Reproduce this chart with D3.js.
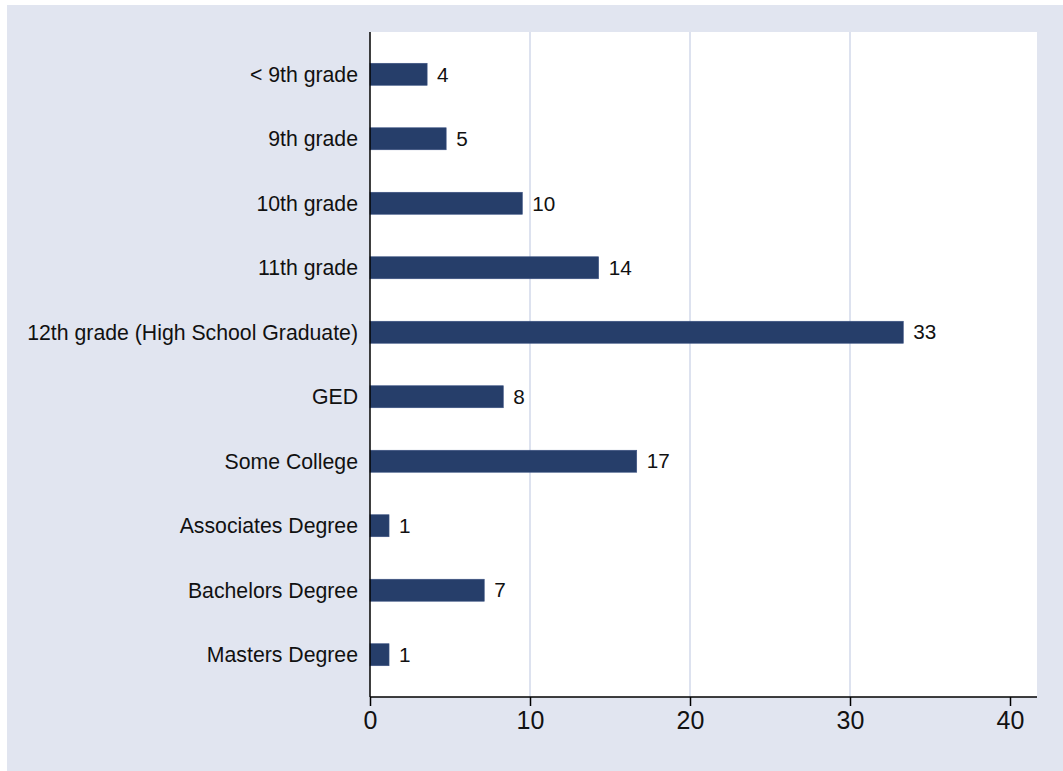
<!DOCTYPE html>
<html>
<head>
<meta charset="utf-8">
<script src="https://cdn.jsdelivr.net/npm/d3@7"></script>
<style>
html,body{margin:0;padding:0;background:#fff;}
svg{display:block;font-family:"Liberation Sans",Arial,Helvetica,sans-serif;}
</style>
</head>
<body>
<svg id="chart" width="1063" height="771"></svg>
<script>
const categories = ["< 9th grade","9th grade","10th grade","11th grade","12th grade (High School Graduate)","GED","Some College","Associates Degree","Bachelors Degree","Masters Degree"];
const values = [3.57, 4.76, 9.52, 14.29, 33.33, 8.33, 16.67, 1.19, 7.14, 1.19];
const xTicks = [0, 10, 20, 30, 40];

const svg = d3.select("#chart");
const W = 1063, H = 771;
const plot = {left: 370, right: 1037, top: 32, bottom: 697};

svg.append("rect").attr("x", 7).attr("y", 5).attr("width", W - 7).attr("height", H - 5).attr("fill", "#e1e5f0");
svg.append("rect").attr("x", plot.left).attr("y", plot.top)
  .attr("width", plot.right - plot.left).attr("height", plot.bottom - plot.top).attr("fill", "#ffffff");

const x = d3.scaleLinear().domain([0, 40]).range([plot.left, 1010]);
const y = d3.scaleBand().domain(categories).range([plot.top, plot.bottom])
  .paddingInner(0.659).paddingOuter(0.485);

// gridlines
svg.append("g").selectAll("line").data(xTicks.filter(t => t > 0 && t < 40)).join("line")
  .attr("x1", d => x(d)).attr("x2", d => x(d))
  .attr("y1", plot.top).attr("y2", plot.bottom)
  .attr("stroke", "#dde2ef").attr("stroke-width", 2);

// bars
const data = categories.map((c, i) => ({c, v: values[i]}));
svg.append("g").selectAll("rect").data(data).join("rect")
  .attr("x", x(0)).attr("y", d => y(d.c))
  .attr("width", d => x(d.v) - x(0)).attr("height", y.bandwidth())
  .attr("fill", "#263e6a").attr("stroke", "#3b5282").attr("stroke-width", 0.6);

// value labels
const fmt = d3.format(".0f");
svg.append("g").selectAll("text").data(data).join("text")
  .attr("x", d => x(d.v) + 10).attr("y", d => y(d.c) + y.bandwidth() / 2)
  .attr("dy", "0.35em").attr("font-size", 20.7).attr("fill", "#111")
  .text(d => fmt(d.v));

// category labels
svg.append("g").selectAll("text").data(categories).join("text")
  .attr("x", plot.left - 12).attr("y", d => y(d) + y.bandwidth() / 2)
  .attr("dy", "0.35em").attr("text-anchor", "end").attr("font-size", 21.25).attr("fill", "#111")
  .text(d => d);

// left axis line
svg.append("line").attr("x1", plot.left).attr("x2", plot.left)
  .attr("y1", plot.top).attr("y2", plot.bottom)
  .attr("stroke", "#000").attr("stroke-width", 1.5);

// bottom axis
const xAxis = d3.axisBottom(x).tickValues(xTicks).tickSize(9).tickPadding(5).tickFormat(d3.format("d"));
const gx = svg.append("g").attr("transform", `translate(0,${plot.bottom})`).call(xAxis);
gx.select(".domain").remove();
gx.selectAll(".tick line").attr("stroke", "#000").attr("stroke-width", 1.5);
gx.selectAll(".tick text").attr("font-size", 25).attr("fill", "#111")
  .attr("font-family", "'Liberation Sans',Arial,Helvetica,sans-serif");
svg.append("line").attr("x1", plot.left).attr("x2", plot.right)
  .attr("y1", plot.bottom).attr("y2", plot.bottom)
  .attr("stroke", "#000").attr("stroke-width", 1.5);
</script>
</body>
</html>
